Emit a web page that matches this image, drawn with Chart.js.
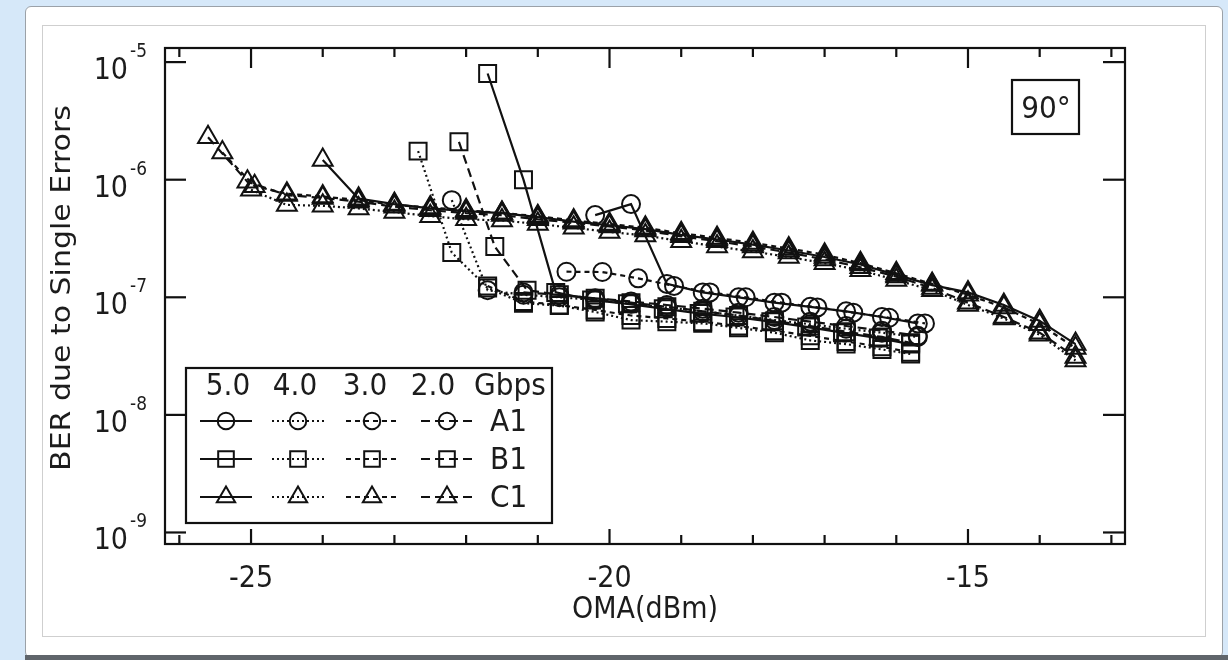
<!DOCTYPE html>
<html>
<head>
<meta charset="utf-8">
<script src="https://cdn.jsdelivr.net/npm/chart.js@4.4.1/dist/chart.umd.min.js"></script>
<style>
  html, body { margin: 0; padding: 0; width: 1228px; height: 660px; overflow: hidden; background: #d6e8f9; }
  #panel { position: absolute; left: 25px; top: 6px; width: 1198px; height: 652px; background: #fff;
           border: 1px solid #9ba1a8; border-radius: 6px; box-sizing: border-box; }
  #inner { position: absolute; left: 42px; top: 25px; width: 1164px; height: 612px;
           border: 1px solid #cfcfcf; box-sizing: border-box; }
  #bar { position: absolute; left: 25px; top: 655px; width: 1203px; height: 5px; background: #60656b; }
  canvas { position: absolute; left: 0; top: 0; }
</style>
</head>
<body>
<div id="panel"></div>
<div id="inner"></div>
<div id="bar"></div>
<canvas id="cv" width="1228" height="660"></canvas>
<script>
// Bit rates (Gbps) and receivers
const rates = ['5.0', '4.0', '3.0', '2.0'];
const devices = ['A1', 'B1', 'C1'];

// Axis ticks
const xMajorTicks = [-25, -20, -15];
const xMinorTicks = [-26, -25, -24, -23, -22, -21, -20, -19, -18, -17, -16, -15, -14, -13];
const yDecades = [-5, -6, -7, -8, -9];

// A1 (circles): OMA in dBm, BER
const xA1_50 = [-20.2, -19.7, -19.2, -18.7, -18.2, -17.7, -17.2, -16.7, -16.2, -15.7];
const yA1_50 = [5.0e-7, 6.2e-7, 1.3e-7, 1.1e-7, 1.0e-7, 9.0e-8, 8.3e-8, 7.6e-8, 6.8e-8, 6.0e-8];
const xA1_40 = [-22.2, -21.7, -21.2, -20.7, -20.2, -19.7, -19.2, -18.7, -18.2, -17.7, -17.2, -16.7, -16.2, -15.7];
const yA1_40 = [6.7e-7, 1.15e-7, 1.05e-7, 1.0e-7, 9.5e-8, 8.8e-8, 8.2e-8, 7.6e-8, 7.0e-8, 6.4e-8, 5.9e-8, 5.4e-8, 5.0e-8, 4.6e-8];
const xA1_30 = [-20.6, -20.1, -19.6, -19.1, -18.6, -18.1, -17.6, -17.1, -16.6, -16.1, -15.6];
const yA1_30 = [1.65e-7, 1.64e-7, 1.45e-7, 1.25e-7, 1.1e-7, 1.0e-7, 9.0e-8, 8.2e-8, 7.4e-8, 6.7e-8, 6.0e-8];
const xA1_20 = [-21.2, -20.7, -20.2, -19.7, -19.2, -18.7, -18.2, -17.7, -17.2, -16.7, -16.2, -15.7];
const yA1_20 = [1.1e-7, 1.05e-7, 9.8e-8, 9.2e-8, 8.6e-8, 8.0e-8, 7.4e-8, 6.8e-8, 6.2e-8, 5.7e-8, 5.2e-8, 4.7e-8];

// B1 (squares)
const xB1_50 = [-21.7, -21.2, -20.75, -20.25, -19.75, -19.25, -18.75, -18.25, -17.75, -17.25, -16.75, -16.25, -15.8];
const yB1_50 = [8.0e-6, 1.0e-6, 1.1e-7, 9.5e-8, 8.8e-8, 8.0e-8, 7.3e-8, 6.8e-8, 6.2e-8, 5.6e-8, 5.0e-8, 4.5e-8, 4.0e-8];
const xB1_40 = [-22.67, -22.2, -21.7, -21.2, -20.7, -20.2, -19.7, -19.2, -18.7, -18.2, -17.7, -17.2, -16.7, -16.2, -15.8];
const yB1_40 = [1.75e-6, 2.4e-7, 1.2e-7, 8.9e-8, 8.5e-8, 7.5e-8, 6.4e-8, 6.2e-8, 6.0e-8, 5.5e-8, 5.0e-8, 4.3e-8, 4.0e-8, 3.6e-8, 3.3e-8];
const xB1_30 = [-21.7, -21.2, -20.7, -20.2, -19.7, -19.2, -18.7, -18.2, -17.7, -17.2, -16.7, -16.2, -15.8];
const yB1_30 = [1.25e-7, 9.2e-8, 8.6e-8, 7.8e-8, 7.0e-8, 6.6e-8, 6.2e-8, 5.7e-8, 5.2e-8, 4.7e-8, 4.2e-8, 3.8e-8, 3.4e-8];
const xB1_20 = [-22.1, -21.6, -21.15, -20.7, -20.2, -19.7, -19.2, -18.7, -18.2, -17.7, -17.2, -16.7, -16.2, -15.8];
const yB1_20 = [2.1e-6, 2.7e-7, 1.15e-7, 1.05e-7, 9.8e-8, 9.0e-8, 8.3e-8, 7.6e-8, 7.0e-8, 6.3e-8, 5.7e-8, 5.1e-8, 4.6e-8, 4.1e-8];

// C1 (triangles)
const xC1_50 = [-24.0, -23.5, -23.0, -22.5, -22.0, -21.5, -21.0, -20.5, -20.0, -19.5, -19.0, -18.5, -18.0, -17.5, -17.0, -16.5, -16.0, -15.5, -15.0, -14.5, -14.0, -13.5];
const yC1_50 = [1.47e-6, 6.9e-7, 6.2e-7, 5.7e-7, 5.4e-7, 5.2e-7, 4.8e-7, 4.4e-7, 4.1e-7, 3.8e-7, 3.4e-7, 3.1e-7, 2.8e-7, 2.5e-7, 2.2e-7, 1.9e-7, 1.55e-7, 1.27e-7, 1.1e-7, 8.6e-8, 6.3e-8, 4.0e-8];
const xC1_40 = [-25.0, -24.5, -24.0, -23.5, -23.0, -22.5, -22.0, -21.5, -21.0, -20.5, -20.0, -19.5, -19.0, -18.5, -18.0, -17.5, -17.0, -16.5, -16.0, -15.5, -15.0, -14.5, -14.0, -13.5];
const yC1_40 = [8.2e-7, 6.1e-7, 6.0e-7, 5.7e-7, 5.3e-7, 4.9e-7, 4.6e-7, 4.5e-7, 4.2e-7, 3.9e-7, 3.6e-7, 3.35e-7, 3.0e-7, 2.7e-7, 2.45e-7, 2.2e-7, 1.95e-7, 1.7e-7, 1.4e-7, 1.15e-7, 8.6e-8, 6.6e-8, 4.8e-8, 2.9e-8];
const xC1_30 = [-25.4, -24.95, -24.5, -24.0, -23.5, -23.0, -22.5, -22.0, -21.5, -21.0, -20.5, -20.0, -19.5, -19.0, -18.5, -18.0, -17.5, -17.0, -16.5, -16.0, -15.5, -15.0, -14.5, -14.0, -13.5];
const yC1_30 = [1.7e-6, 8.8e-7, 7.6e-7, 7.2e-7, 6.7e-7, 6.1e-7, 5.8e-7, 5.5e-7, 5.2e-7, 4.9e-7, 4.5e-7, 4.2e-7, 3.9e-7, 3.5e-7, 3.2e-7, 2.9e-7, 2.6e-7, 2.3e-7, 1.95e-7, 1.6e-7, 1.3e-7, 1.05e-7, 8.2e-8, 5.9e-8, 3.7e-8];
const xC1_20 = [-25.6, -25.05, -24.5, -24.0, -23.5, -23.0, -22.5, -22.0, -21.5, -21.0, -20.5, -20.0, -19.5, -19.0, -18.5, -18.0, -17.5, -17.0, -16.5, -16.0, -15.5, -15.0, -14.5, -14.0, -13.5];
const yC1_20 = [2.3e-6, 9.6e-7, 7.4e-7, 7.0e-7, 6.5e-7, 5.9e-7, 5.5e-7, 5.2e-7, 5.0e-7, 4.6e-7, 4.3e-7, 4.0e-7, 3.7e-7, 3.3e-7, 3.0e-7, 2.7e-7, 2.4e-7, 2.1e-7, 1.8e-7, 1.5e-7, 1.2e-7, 9.0e-8, 6.8e-8, 5.0e-8, 3.1e-8];

const series = [
  { dev: 'A1', rate: '5.0', x: xA1_50, y: yA1_50 },
  { dev: 'A1', rate: '4.0', x: xA1_40, y: yA1_40 },
  { dev: 'A1', rate: '3.0', x: xA1_30, y: yA1_30 },
  { dev: 'A1', rate: '2.0', x: xA1_20, y: yA1_20 },
  { dev: 'B1', rate: '5.0', x: xB1_50, y: yB1_50 },
  { dev: 'B1', rate: '4.0', x: xB1_40, y: yB1_40 },
  { dev: 'B1', rate: '3.0', x: xB1_30, y: yB1_30 },
  { dev: 'B1', rate: '2.0', x: xB1_20, y: yB1_20 },
  { dev: 'C1', rate: '5.0', x: xC1_50, y: yC1_50 },
  { dev: 'C1', rate: '4.0', x: xC1_40, y: yC1_40 },
  { dev: 'C1', rate: '3.0', x: xC1_30, y: yC1_30 },
  { dev: 'C1', rate: '2.0', x: xC1_20, y: yC1_20 }
];

// Styling: marker per receiver, dash pattern per bit rate
const INK = '#111111';
const markerOf = { A1: 'circle', B1: 'rect', C1: 'triangle' };
const radiusOf = { A1: 9, B1: 12, C1: 11.5 };
const dashOf = { '5.0': [], '4.0': [2, 3], '3.0': [5, 4], '2.0': [9, 5] };
const FONT = '"DejaVu Sans", sans-serif';
const TEXT = '#1c1c1c';

function seg(ctx, x1, y1, x2, y2) {
  ctx.beginPath(); ctx.moveTo(x1, y1); ctx.lineTo(x2, y2); ctx.stroke();
}

// text drawn slightly taller than wide, like the typeface used on the figure
function tallText(ctx, str, x, y, stretch) {
  ctx.save();
  ctx.translate(x, y);
  ctx.scale(1, stretch || 1.1);
  ctx.fillText(str, 0, 0);
  ctx.restore();
}

// Boxed frame with inward ticks, tick labels, titles, key and angle tag
const framePlugin = {
  id: 'frame',
  afterDraw(chart) {
    const ctx = chart.ctx;
    const a = chart.chartArea;
    const xs = chart.scales.x, ys = chart.scales.y;
    ctx.save();
    ctx.strokeStyle = INK;
    ctx.fillStyle = TEXT;
    ctx.lineWidth = 2.2;
    ctx.setLineDash([]);
    ctx.strokeRect(a.left, a.top, a.right - a.left, a.bottom - a.top);

    xMinorTicks.forEach(v => {
      const px = xs.getPixelForValue(v);
      const major = xMajorTicks.includes(v);
      seg(ctx, px, a.bottom, px, a.bottom - (major ? 15 : 9));
      seg(ctx, px, a.top, px, a.top + (major ? 20 : 9));
    });
    yDecades.forEach(e => {
      const py = ys.getPixelForValue(Math.pow(10, e));
      seg(ctx, a.left, py, a.left + 21, py);
      seg(ctx, a.right, py, a.right - 22, py);
    });

    // x tick labels
    ctx.font = '27px ' + FONT;
    ctx.textAlign = 'center';
    ctx.textBaseline = 'alphabetic';
    xMajorTicks.forEach(v => {
      tallText(ctx, String(v), xs.getPixelForValue(v), 587);
    });
    // y tick labels as powers of ten
    yDecades.forEach(e => {
      const py = ys.getPixelForValue(Math.pow(10, e));
      ctx.font = '27px ' + FONT;
      ctx.textAlign = 'right';
      tallText(ctx, '10', 128, py + 17, 1.12);
      ctx.font = '17px ' + FONT;
      ctx.textAlign = 'left';
      tallText(ctx, String(e), 130, py - 5);
    });

    // axis titles
    ctx.font = '27px ' + FONT;
    ctx.textAlign = 'center';
    tallText(ctx, 'OMA(dBm)', (a.left + a.right) / 2, 618);
    ctx.save();
    ctx.translate(63, 288);
    ctx.rotate(-Math.PI / 2);
    ctx.scale(1.11, 1);
    ctx.textBaseline = 'middle';
    ctx.fillText('BER due to Single Errors', 0, 0);
    ctx.restore();

    // angle tag
    ctx.lineWidth = 2.2;
    ctx.strokeRect(1012, 80, 67, 54);
    ctx.font = '28px ' + FONT;
    ctx.textAlign = 'center';
    ctx.textBaseline = 'alphabetic';
    tallText(ctx, '90\u00B0', 1046, 118);

    // key
    ctx.strokeRect(186, 368, 366, 155);
    const colX = [226, 298, 372, 447];
    const headX = [228, 295, 365, 433];
    rates.forEach((r, i) => tallText(ctx, r, headX[i], 395));
    tallText(ctx, 'Gbps', 510, 395);
    const rowY = [421, 459, 497];
    devices.forEach((d, j) => {
      const y = rowY[j];
      rates.forEach((r, i) => {
        const cx = colX[i];
        ctx.lineWidth = 2.1;
        ctx.setLineDash(dashOf[r]);
        seg(ctx, cx - 26, y, cx + 26, y);
        ctx.setLineDash([]);
        ctx.lineWidth = 2;
        ctx.fillStyle = 'rgba(255,255,255,0)';
        Chart.helpers.drawPoint(ctx, { pointStyle: markerOf[d], radius: radiusOf[d] * 0.92, rotation: 0, borderWidth: 2 }, cx, y);
        ctx.fillStyle = TEXT;
      });
      ctx.font = '28px ' + FONT;
      ctx.textAlign = 'left';
      tallText(ctx, d, 490, y + 10);
      ctx.textAlign = 'center';
    });
    ctx.restore();
  }
};

new Chart(document.getElementById('cv'), {
  type: 'line',
  data: {
    datasets: series.map(s => ({
      label: s.dev + ' ' + s.rate + ' Gbps',
      data: s.x.map((v, i) => ({ x: v, y: s.y[i] })),
      borderColor: INK,
      borderWidth: 2.2,
      borderDash: dashOf[s.rate],
      pointStyle: markerOf[s.dev],
      pointRadius: radiusOf[s.dev],
      pointBorderWidth: 2,
      pointBorderColor: INK,
      pointBackgroundColor: 'rgba(255,255,255,0)',
      fill: false,
      tension: 0
    }))
  },
  options: {
    responsive: false,
    animation: false,
    devicePixelRatio: 1,
    events: [],
    layout: { padding: { left: 165, right: 103, top: 48, bottom: 116 } },
    plugins: { legend: { display: false }, tooltip: { enabled: false } },
    scales: {
      x: { type: 'linear', min: -26.2, max: -12.81, display: false },
      y: { type: 'logarithmic', min: Math.pow(10, -9.098), max: Math.pow(10, -4.88), display: false }
    }
  },
  plugins: [framePlugin]
});
</script>
</body>
</html>
